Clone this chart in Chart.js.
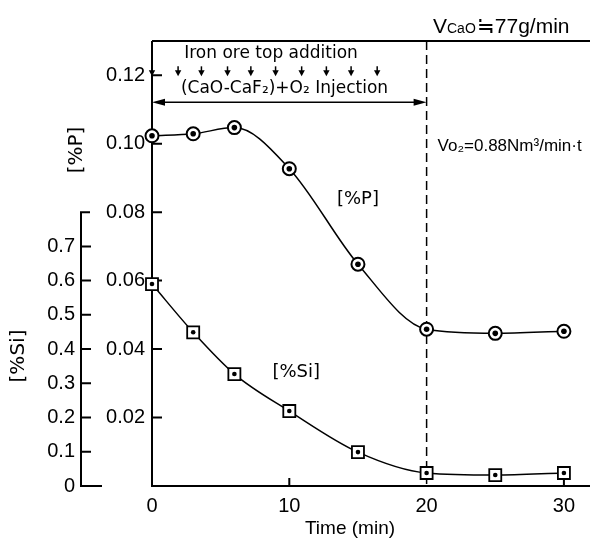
<html>

<head>
    <script src="https://cdn.jsdelivr.net/npm/chart.js"></script>
    <style>
        body { margin: 0; background: #fff; }
    </style>
</head>

<body>
    <canvas id="chart" width="592" height="550"></canvas>

    <script>
        // sampling times (min)
        var time_min = [0, 3, 6, 10, 15, 20, 25, 30];
        var p_values = [0.1023, 0.1029, 0.1047, 0.0927, 0.0648, 0.0458, 0.0446, 0.0452];
        // [%Si]
        var si_values = [0.59, 0.449, 0.327, 0.219, 0.099, 0.038, 0.032, 0.038];
        // iron ore top additions (min)
        var ore_times = [0, 1.9, 3.6, 5.5, 7.2, 9.0, 10.9, 12.7, 14.5, 16.4];
        var injection_end = 20;

        var x_ticks = [0, 10, 20, 30];
        var p_ticks = [0.02, 0.04, 0.06, 0.08, 0.10, 0.12];
        var si_ticks = [0, 0.1, 0.2, 0.3, 0.4, 0.5, 0.6, 0.7];

        var SANS = "'DejaVu Sans', sans-serif";
        var LIB = "'Liberation Sans', Arial, sans-serif";

        var p_points = time_min.map(function(t, i) { return { x: t, y: p_values[i] }; });
        var si_points = time_min.map(function(t, i) { return { x: t, y: si_values[i] }; });

        function arrowHead(ctx, px, py, dx, dy, len, half) {
            // tip at (px,py), pointing along (dx,dy)
            ctx.beginPath();
            ctx.moveTo(px, py);
            ctx.lineTo(px - dx * len - dy * half, py - dy * len + dx * half);
            ctx.lineTo(px - dx * len + dy * half, py - dy * len - dx * half);
            ctx.closePath();
            ctx.fill();
        }

        function label(ctx, str, px, py, font, align) {
            ctx.font = font;
            ctx.textAlign = align || 'center';
            ctx.textBaseline = 'middle';
            ctx.fillText(str, px, py);
        }

        var axesPlugin = {
            id: 'axes',
            beforeDatasetsDraw: function(chart) {
                var ctx = chart.ctx, a = chart.chartArea;
                var x = chart.scales.x, y = chart.scales.y, y2 = chart.scales.y2;
                ctx.save();
                ctx.strokeStyle = '#000';
                ctx.lineWidth = 2;
                ctx.beginPath();
                ctx.moveTo(a.left, a.top);
                ctx.lineTo(a.left, a.bottom);
                ctx.lineTo(a.right, a.bottom);
                ctx.moveTo(a.left, a.top);
                ctx.lineTo(a.right, a.top);
                p_ticks.forEach(function(v) {
                    var py = y.getPixelForValue(v);
                    ctx.moveTo(a.left, py);
                    ctx.lineTo(a.left + 10, py);
                });
                // [%Si] axis, only 0 - 0.8
                var sx = y2.right;
                var top = y2.getPixelForValue(0.8), bot = y2.getPixelForValue(0);
                ctx.moveTo(sx + 9, top);
                ctx.lineTo(sx, top);
                ctx.lineTo(sx, bot);
                ctx.lineTo(sx + 21, bot);
                si_ticks.forEach(function(v) {
                    if (v > 0) {
                        var py = y2.getPixelForValue(v);
                        ctx.moveTo(sx, py);
                        ctx.lineTo(sx + 10, py);
                    }
                });
                [10, 30].forEach(function(v) {
                    var px = x.getPixelForValue(v);
                    ctx.moveTo(px, a.bottom);
                    ctx.lineTo(px, a.bottom - 8);
                });
                ctx.stroke();

                // end of injection
                ctx.lineWidth = 1.5;
                ctx.setLineDash([9, 5]);
                ctx.beginPath();
                var dx = x.getPixelForValue(injection_end);
                ctx.moveTo(dx, a.top);
                ctx.lineTo(dx, a.bottom);
                ctx.stroke();
                ctx.restore();
            },
            afterDatasetsDraw: function(chart) {
                var ctx = chart.ctx, a = chart.chartArea;
                var x = chart.scales.x, y = chart.scales.y;
                ctx.save();
                ctx.fillStyle = '#000';
                ctx.strokeStyle = '#000';

                // ore addition arrows
                ctx.lineWidth = 1.5;
                ore_times.forEach(function(t) {
                    var px = x.getPixelForValue(t);
                    var y0 = y.getPixelForValue(0.1226), y1 = y.getPixelForValue(0.1197);
                    ctx.beginPath();
                    ctx.moveTo(px, y0);
                    ctx.lineTo(px, y1 - 4);
                    ctx.stroke();
                    arrowHead(ctx, px, y1, 0, 1, 6, 3.2);
                });

                // injection period arrow
                var ay = y.getPixelForValue(0.1121);
                var ax0 = x.getPixelForValue(0), ax1 = x.getPixelForValue(injection_end);
                ctx.beginPath();
                ctx.moveTo(ax0 + 8, ay);
                ctx.lineTo(ax1 - 8, ay);
                ctx.stroke();
                arrowHead(ctx, ax0, ay, -1, 0, 13, 3.5);
                arrowHead(ctx, ax1, ay, 1, 0, 13, 3.5);

                label(ctx, 'Iron ore top addition', x.getPixelForValue(8.67), y.getPixelForValue(0.1264), '17px ' + SANS);
                label(ctx, '(CaO-CaF₂)+O₂ Injection', x.getPixelForValue(9.65), y.getPixelForValue(0.1162), '17px ' + SANS);
                label(ctx, '[%P]', x.getPixelForValue(15.0), y.getPixelForValue(0.0838), '18px ' + SANS);
                label(ctx, '[%Si]', x.getPixelForValue(10.5), y.getPixelForValue(0.0333), '18px ' + SANS);
                label(ctx, 'Vo₂=0.88Nm³/min·t', x.getPixelForValue(20.8), y.getPixelForValue(0.0993), '17px ' + LIB, 'left');

                // VCaO above the frame
                ctx.textAlign = 'left';
                ctx.textBaseline = 'alphabetic';
                var tx = 433, ty = 33;
                ctx.font = '21px ' + LIB;
                ctx.fillText('V', tx, ty);
                tx += ctx.measureText('V').width;
                ctx.font = '14px ' + LIB;
                ctx.fillText('CaO', tx, ty);
                tx += ctx.measureText('CaO').width + 1;
                ctx.font = '21px ' + LIB;
                ctx.fillText('≒77g/min', tx, ty);

                // axis titles
                label(ctx, 'Time (min)', 350, 529, '19px ' + LIB);
                ctx.translate(77, 150);
                ctx.rotate(-Math.PI / 2);
                label(ctx, '[%P]', 0, 0, '20px ' + SANS);
                ctx.rotate(Math.PI / 2);
                ctx.translate(-77, -150);
                ctx.translate(19, 356);
                ctx.rotate(-Math.PI / 2);
                label(ctx, '[%Si]', 0, 0, '20px ' + SANS);
                ctx.restore();
            }
        };

        var tickFont = { family: LIB, size: 20 };

        new Chart(document.getElementById('chart'), {
            type: 'scatter',
            data: {
                datasets: [{
                    data: p_points,
                    yAxisID: 'y',
                    showLine: false,
                    pointRadius: 2.8,
                    pointBorderWidth: 0,
                    pointBackgroundColor: '#000',
                    order: 0,
                    clip: false
                }, {
                    data: si_points,
                    yAxisID: 'y2',
                    showLine: false,
                    pointRadius: 2.3,
                    pointBorderWidth: 0,
                    pointBackgroundColor: '#000',
                    order: 0,
                    clip: false
                }, {
                    data: p_points,
                    yAxisID: 'y',
                    showLine: true,
                    borderColor: '#000',
                    borderWidth: 1.5,
                    cubicInterpolationMode: 'monotone',
                    pointStyle: 'circle',
                    pointRadius: 6.5,
                    pointBorderWidth: 2,
                    pointBorderColor: '#000',
                    pointBackgroundColor: '#fff',
                    order: 1,
                    clip: false
                }, {
                    data: si_points,
                    yAxisID: 'y2',
                    showLine: true,
                    borderColor: '#000',
                    borderWidth: 1.5,
                    cubicInterpolationMode: 'monotone',
                    pointStyle: 'rect',
                    pointRadius: 8.5,
                    pointBorderWidth: 1.8,
                    pointBorderColor: '#000',
                    pointBackgroundColor: '#fff',
                    order: 1,
                    clip: false
                }]
            },
            options: {
                responsive: false,
                animation: false,
                devicePixelRatio: 1,
                layout: { autoPadding: false, padding: { left: 0, top: 41, right: 2, bottom: 24 } },
                plugins: { legend: { display: false }, tooltip: { enabled: false } },
                scales: {
                    x: {
                        type: 'linear',
                        min: 0,
                        max: 31.9,
                        grid: { display: false, drawTicks: false },
                        border: { display: false },
                        ticks: {
                            stepSize: 10,
                            includeBounds: false,
                            autoSkip: false,
                            maxRotation: 0,
                            padding: 8,
                            color: '#000',
                            font: tickFont,
                            callback: function(value) {
                                return x_ticks.indexOf(value) > -1 ? String(value) : '';
                            }
                        },
                        afterFit: function(s) {
                            s.height = 40;
                            s.paddingLeft = 0;
                            s.paddingRight = 0;
                        }
                    },
                    y: {
                        type: 'linear',
                        position: 'left',
                        weight: 0,
                        min: 0,
                        max: 0.13,
                        grid: { display: false, drawTicks: false },
                        border: { display: false },
                        ticks: {
                            stepSize: 0.02,
                            includeBounds: false,
                            autoSkip: false,
                            padding: 7,
                            color: '#000',
                            font: tickFont,
                            callback: function(value) {
                                var v = Math.round(value * 100) / 100;
                                return p_ticks.indexOf(v) > -1 ? v.toFixed(2) : '';
                            }
                        },
                        afterFit: function(s) { s.width = 71; }
                    },
                    y2: {
                        type: 'linear',
                        position: 'left',
                        weight: 1,
                        min: 0,
                        max: 1.3,
                        grid: { display: false, drawTicks: false },
                        border: { display: false },
                        ticks: {
                            stepSize: 0.1,
                            includeBounds: false,
                            autoSkip: false,
                            padding: 6,
                            color: '#000',
                            font: tickFont,
                            callback: function(value) {
                                var v = Math.round(value * 10) / 10;
                                if (si_ticks.indexOf(v) < 0) return '';
                                return v === 0 ? '0' : v.toFixed(1);
                            }
                        },
                        afterFit: function(s) { s.width = 81; }
                    }
                }
            },
            plugins: [axesPlugin]
        });
    </script>

</body>

</html>
